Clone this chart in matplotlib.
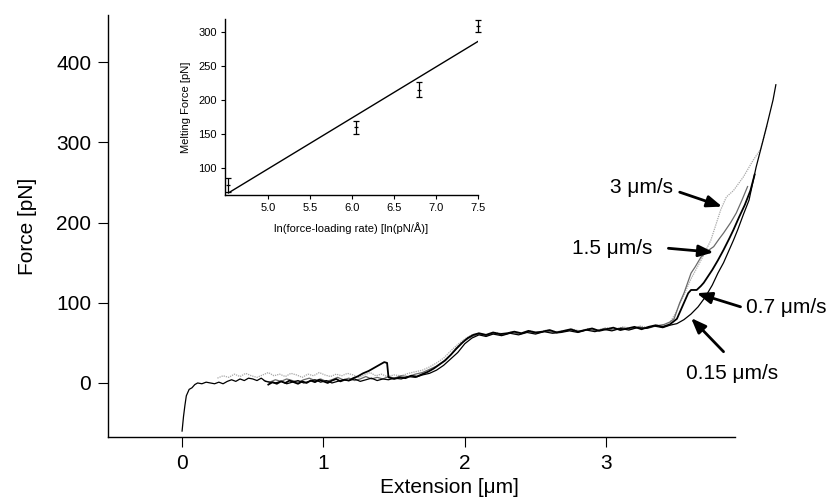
import matplotlib
matplotlib.use("Agg")
import matplotlib.pyplot as plt

plt.rcParams['font.family'] = ['Liberation Sans', 'DejaVu Sans']

# ---------------- main panel data (Extension [um], Force [pN]) ----------------
x_015 = [0.00, 0.01, 0.02, 0.03, 0.05, 0.07, 0.09, 0.11, 0.14, 0.17,
         0.20, 0.23, 0.26, 0.29, 0.32, 0.35, 0.38, 0.41, 0.44, 0.47,
         0.50, 0.53, 0.56, 0.59, 0.62, 0.66, 0.70, 0.74, 0.78, 0.82,
         0.86, 0.90, 0.94, 0.98, 1.02, 1.06, 1.10, 1.14, 1.18, 1.22,
         1.26, 1.30, 1.34, 1.38, 1.42, 1.46, 1.50, 1.55, 1.60, 1.65,
         1.70, 1.75, 1.80, 1.85, 1.90, 1.95, 2.00, 2.05, 2.10, 2.15,
         2.20, 2.26, 2.32, 2.38, 2.44, 2.50, 2.56, 2.62, 2.68, 2.74,
         2.80, 2.86, 2.92, 2.98, 3.04, 3.10, 3.16, 3.22, 3.28, 3.34,
         3.40, 3.45, 3.50, 3.55, 3.60, 3.65, 3.70, 3.75, 3.79, 3.83,
         3.86, 3.90, 3.93, 3.97, 4.01, 4.06, 4.11, 4.14, 4.18, 4.20]
y_015 = [-60, -42, -28, -16, -8, -6, -2, 0, -1, 1,
         0, -1, 1, -1, 2, 4, 2, 5, 3, 6,
         5, 3, 6, 2, 1, 0, 2, -1, 1, 3,
         0, 2, 4, 1, 3, 0, 2, 4, 3, 5,
         2, 4, 6, 3, 5, 4, 6, 5, 8, 7,
         10, 12, 16, 22, 30, 38, 49, 56, 60, 58,
         61, 59, 62, 60, 63, 61, 64, 62, 63, 65,
         63, 66, 64, 67, 65, 68, 66, 69, 68, 71,
         69, 72, 74, 79, 86, 95, 107, 122, 137, 150,
         162, 178, 191, 210, 228, 269, 303, 324, 353, 372]

x_07 = [0.61, 0.64, 0.67, 0.70, 0.73, 0.76, 0.79, 0.82, 0.85, 0.88,
        0.91, 0.94, 0.97, 1.00, 1.03, 1.06, 1.09, 1.12, 1.15, 1.18,
        1.21, 1.24, 1.28, 1.32, 1.36, 1.40, 1.43, 1.45, 1.46, 1.50,
        1.54, 1.58, 1.62, 1.66, 1.70, 1.74, 1.78, 1.82, 1.86, 1.90,
        1.94, 1.98, 2.02, 2.06, 2.10, 2.15, 2.20, 2.25, 2.30, 2.35,
        2.40, 2.45, 2.50, 2.55, 2.60, 2.65, 2.70, 2.75, 2.80, 2.85,
        2.90, 2.95, 3.00, 3.05, 3.10, 3.15, 3.20, 3.25, 3.30, 3.35,
        3.40, 3.45, 3.50, 3.55, 3.58, 3.60, 3.64, 3.67, 3.69, 3.72,
        3.75, 3.79, 3.83, 3.87, 3.90, 3.94, 3.98, 4.02, 4.05]
y_07 = [-2, 1, -1, 2, 0, 3, 1, -1, 2, 0,
        3, 1, 4, 2, 0, 3, 5, 2, 4, 3,
        6, 8, 12, 15, 19, 23, 26, 25, 7, 5,
        7, 6, 9, 8, 11, 14, 18, 23, 28, 35,
        43, 50, 56, 60, 62, 60, 63, 61, 62, 64,
        62, 65, 63, 64, 66, 63, 65, 67, 64, 66,
        68, 65, 67, 69, 66, 68, 70, 67, 70, 72,
        70, 73, 80, 100, 112, 116, 116, 121, 125, 133,
        141, 153, 166, 180, 191, 207, 222, 240, 260]

x_15 = [0.58, 0.62, 0.66, 0.70, 0.74, 0.78, 0.82, 0.86, 0.90, 0.94,
        0.98, 1.02, 1.06, 1.10, 1.14, 1.18, 1.22, 1.26, 1.30, 1.34,
        1.38, 1.42, 1.46, 1.50, 1.55, 1.60, 1.65, 1.70, 1.75, 1.80,
        1.85, 1.90, 1.95, 2.00, 2.05, 2.10, 2.15, 2.21, 2.27, 2.33,
        2.39, 2.45, 2.51, 2.57, 2.63, 2.69, 2.75, 2.81, 2.87, 2.93,
        2.99, 3.05, 3.11, 3.17, 3.23, 3.29, 3.35, 3.41, 3.45, 3.48,
        3.52, 3.55, 3.60, 3.63, 3.67, 3.72, 3.76, 3.80, 3.83, 3.88,
        3.92, 3.96, 4.00]
y_15 = [3, 1, 4, 2, 5, 3, 1, 4, 6, 3,
        5, 2, 4, 7, 4, 6, 3, 5, 8, 5,
        7, 5, 8, 6, 9, 8, 11, 13, 17, 21,
        27, 35, 44, 53, 58, 61, 59, 62, 60, 63,
        61, 64, 62, 65, 63, 64, 66, 64, 67, 65,
        68, 66, 69, 67, 70, 68, 71, 73, 76, 80,
        100, 112, 137, 145, 157, 165, 170, 180, 187, 200,
        212, 228, 245]

x_3 = [0.25, 0.29, 0.33, 0.37, 0.41, 0.45, 0.49, 0.53, 0.57, 0.61,
       0.65, 0.69, 0.73, 0.77, 0.81, 0.85, 0.89, 0.93, 0.97, 1.01,
       1.05, 1.09, 1.13, 1.17, 1.21, 1.25, 1.29, 1.33, 1.37, 1.41,
       1.45, 1.50, 1.55, 1.60, 1.65, 1.70, 1.75, 1.80, 1.85, 1.90,
       1.95, 2.00, 2.05, 2.10, 2.16, 2.22, 2.28, 2.34, 2.40, 2.46,
       2.52, 2.58, 2.64, 2.70, 2.76, 2.82, 2.88, 2.94, 3.00, 3.06,
       3.12, 3.18, 3.24, 3.30, 3.36, 3.42, 3.45, 3.49, 3.55, 3.60,
       3.67, 3.74, 3.81, 3.85, 3.90, 3.97, 4.04, 4.09, 4.14]
y_3 = [6, 9, 7, 11, 8, 12, 9, 7, 10, 13,
       9, 11, 8, 12, 10, 7, 11, 9, 13, 10,
       8, 11, 9, 12, 10, 7, 10, 13, 9, 11,
       8, 10, 9, 12, 14, 16, 20, 25, 31, 40,
       48, 55, 60, 62, 59, 63, 61, 64, 62, 65,
       63, 66, 64, 65, 67, 65, 68, 66, 69, 67,
       70, 68, 71, 69, 72, 71, 75, 87, 110, 130,
       153, 178, 216, 232, 240, 257, 278, 291, 322]

x_ticks = [0, 1, 2, 3]
y_ticks = [0, 100, 200, 300, 400]

# rate labels: text, text position, arrow tail, arrow head (data units)
rate_labels = ['3 μm/s', '1.5 μm/s', '0.7 μm/s', '0.15 μm/s']
label_xy = [(3.25, 244), (3.04, 168), (4.27, 94), (3.89, 12)]
arrow_tail = [(3.52, 238), (3.44, 168), (3.95, 95), (3.83, 39)]
arrow_head = [(3.82, 220), (3.76, 163), (3.64, 112), (3.60, 81)]

# ---------------- inset data ----------------
ln_rate = [4.53, 6.05, 6.80, 7.50]
melt_force = [75, 160, 215, 309]
melt_err = [10, 9.5, 11, 9]
fit_x = [4.53, 7.50]
fit_y = [63, 286]
inset_xticks = [5.0, 5.5, 6.0, 6.5, 7.0, 7.5]
inset_yticks = [100, 150, 200, 250, 300]

W, H = 828, 498
fig = plt.figure(figsize=(W / 100, H / 100), dpi=100)

# main axes
ax = fig.add_axes([108 / W, 1 - 437 / H, (790 - 108) / W, (437 - 15) / H])
ax.set_xlim(-0.524, 4.30)
ax.set_ylim(-67.4, 459)
for s in ['top', 'right']:
    ax.spines[s].set_visible(False)
ax.spines['bottom'].set_bounds(-0.524, 3.91)
for s in ['left', 'bottom']:
    ax.spines[s].set_linewidth(1.0)

ax.plot(x_3, y_3, color='#a8a8a8', lw=0.9, ls=(0, (1, 0.8)))
ax.plot(x_15, y_15, color='#6a6a6a', lw=0.9)
ax.plot(x_07, y_07, color='black', lw=1.3)
ax.plot(x_015, y_015, color='black', lw=0.9)

ax.set_xticks(x_ticks)
ax.set_yticks(y_ticks)
ax.tick_params(direction='out', length=7, width=0.8, labelsize=15, pad=5)
ax.set_xlabel('Extension [μm]', fontsize=15, labelpad=4)
ax.set_ylabel('Force [pN]', fontsize=15, labelpad=14)

for txt, txy, tail, head in zip(rate_labels, label_xy, arrow_tail, arrow_head):
    ax.text(txy[0], txy[1], txt, fontsize=15, ha='center', va='center', clip_on=False)
    ax.annotate('', xy=head, xytext=tail,
                arrowprops=dict(arrowstyle='-|>,head_length=0.9,head_width=0.35',
                                color='black', lw=2.0, shrinkA=0, shrinkB=0))

# inset axes
ins = fig.add_axes([225 / W, 1 - 195 / H, (478 - 225) / W, (195 - 19) / H])
ins.set_xlim(4.49, 7.5)
ins.set_ylim(60, 319)
for s in ['top', 'right']:
    ins.spines[s].set_visible(False)
for s in ['left', 'bottom']:
    ins.spines[s].set_linewidth(1.0)
eb = ins.errorbar(ln_rate, melt_force, yerr=melt_err, fmt='none', ecolor='black',
                  elinewidth=0.9, capsize=2, capthick=0.9)
for art in eb.get_children():
    art.set_clip_on(False)
ins.plot(ln_rate, melt_force, ls='none', marker='_', color='black', ms=3, mew=0.9,
         clip_on=False)
ins.plot(fit_x, fit_y, color='black', lw=1.0)
ins.set_xticks(inset_xticks)
ins.set_xticklabels(['%.1f' % v for v in inset_xticks])
ins.set_yticks(inset_yticks)
ins.tick_params(direction='out', length=3, width=0.8, labelsize=8, pad=3)
ins.set_xlabel('ln(force-loading rate) [ln(pN/Å)]', fontsize=8, labelpad=6)
ins.set_ylabel('Melting Force [pN]', fontsize=8, labelpad=5)
ins.patch.set_alpha(0)

fig.savefig('out.png', dpi=100)
